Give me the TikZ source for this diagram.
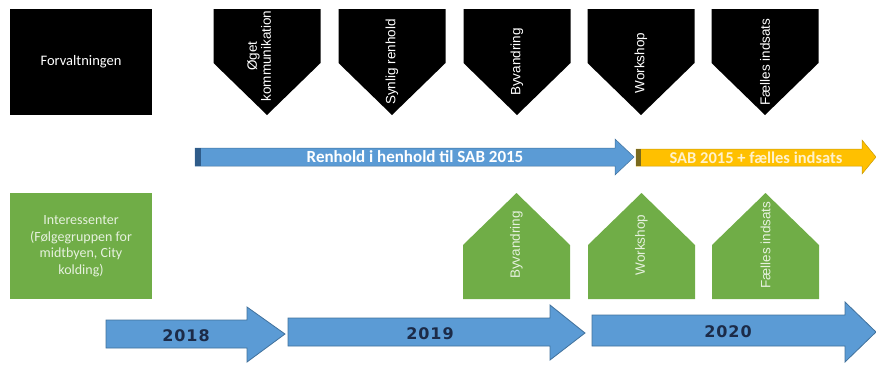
\documentclass[tikz,border=0pt]{standalone}
\usepackage{fontspec}
\setmainfont{Carlito}
\newfontfamily\labelfont{Liberation Sans}
\newfontfamily\yearfont[LetterSpace=6]{DejaVu Sans}
\usepackage{xcolor}
\usepackage{tikz}
\usetikzlibrary{positioning,calc}

\definecolor{sabblue}{HTML}{5B9BD5}
\definecolor{sabblueedge}{HTML}{41719C}
\definecolor{sabbluedark}{HTML}{2F5C8A}
\definecolor{actorgreen}{HTML}{70AD47}
\definecolor{sabyellow}{HTML}{FFC000}
\definecolor{sabyellowedge}{HTML}{C99A06}
\definecolor{sabyellowdark}{HTML}{7A6A1E}
\definecolor{sabyellowtext}{HTML}{FFF2CC}
\definecolor{yearnavy}{HTML}{1C2B48}
\definecolor{greentext}{HTML}{E6F1DE}

\tikzset{
  actorbox/.style={minimum width=142pt, minimum height=106pt, inner sep=0pt, align=center},
  steplabel/.style={rotate=90, inner sep=0pt, align=center,
    font=\labelfont\fontsize{13.5}{14}\selectfont},
  yeararrow/.style={fill=sabblue, draw=sabblueedge, line width=0.8pt},
  yearlabel/.style={inner sep=0pt, text=yearnavy,
    font=\yearfont\bfseries\fontsize{16}{18}\selectfont}
}

\begin{document}
\begin{tikzpicture}[x=1pt,y=-1pt]
  \useasboundingbox (0,0) rectangle (876,365);

  % the two actors
  \node[actorbox, fill=black, text=white, font=\fontsize{14.5}{16}\selectfont]
    (forvaltning) at (81,62) {Forvaltningen};
  \node[actorbox, fill=actorgreen, text=greentext, font=\fontsize{14}{16.5}\selectfont]
    (interessent) at (81,246) {Interessenter\\(Følgegruppen for\\midtbyen, City\\kolding)};

  % steps of the administration, pointing down
  \def\halfw{53.5}
  \foreach \c/\tx/\ty/\name/\txt in {267/259/56/kom/{Øget\\kommunikation},
      392/392/62/syn/{Synlig renhold}, 517/517/62/byv/Byvandring,
      641/641/63/work/Workshop, 765/765/62/faelles/{Fælles indsats}}{
    \fill[black] (\c-\halfw,9) -- (\c+\halfw,9) -- (\c+\halfw,63) -- (\c,115)
      -- (\c-\halfw,63) -- cycle;
    \node[steplabel, text=white] (top-\name) at (\tx,\ty) {\txt};
  }

  % steps of the stakeholders, pointing up
  \foreach \c/\name/\txt in {516.5/byv/Byvandring, 641.5/work/Workshop,
      765.5/faelles/{Fælles indsats}}{
    \fill[actorgreen] (\c-\halfw,299) -- (\c-\halfw,245) -- (\c,193) -- (\c+\halfw,245)
      -- (\c+\halfw,299) -- cycle;
    \node[steplabel, text=greentext] (bottom-\name) at (\c,245) {\txt};
  }

  % cleaning standard
  \filldraw[fill=sabblue, draw=sabblueedge, line width=0.5pt]
    (195,148) -- (615,148) -- (615,139) -- (634,157) -- (615,175) -- (615,166)
    -- (195,166) -- cycle;
  \fill[sabbluedark] (195,148) rectangle (201,166);
  \node[inner sep=0pt, text=white, font=\bfseries\fontsize{17}{18}\selectfont]
    (renhold) at (415,157) {Renhold i henhold til SAB 2015};

  \filldraw[fill=sabyellow, draw=sabyellowedge, line width=0.5pt]
    (636,149) -- (862,149) -- (862,140) -- (876,157) -- (862,174) -- (862,166)
    -- (636,166) -- cycle;
  \fill[sabyellowdark] (636,149) rectangle (641,166);
  \node[inner sep=0pt, text=sabyellowtext, font=\bfseries\fontsize{16.5}{18}\selectfont]
    (sabplus) at (756,157.5) {SAB 2015 + fælles indsats};

  % years
  \filldraw[yeararrow] (106,320) -- (247,320) -- (247,307) -- (285,334) -- (247,362)
    -- (247,348) -- (106,348) -- cycle;
  \node[yearlabel] (y2018) at (186,336) {2018};

  \filldraw[yeararrow] (288,318) -- (550,318) -- (550,305) -- (585,333) -- (550,360)
    -- (550,346) -- (288,346) -- cycle;
  \node[yearlabel] (y2019) at (430,334) {2019};

  \filldraw[yeararrow] (592,315) -- (845,315) -- (845,302) -- (876,332) -- (845,362)
    -- (845,346) -- (592,346) -- cycle;
  \node[yearlabel] (y2020) at (728,332) {2020};
\end{tikzpicture}
\end{document}
